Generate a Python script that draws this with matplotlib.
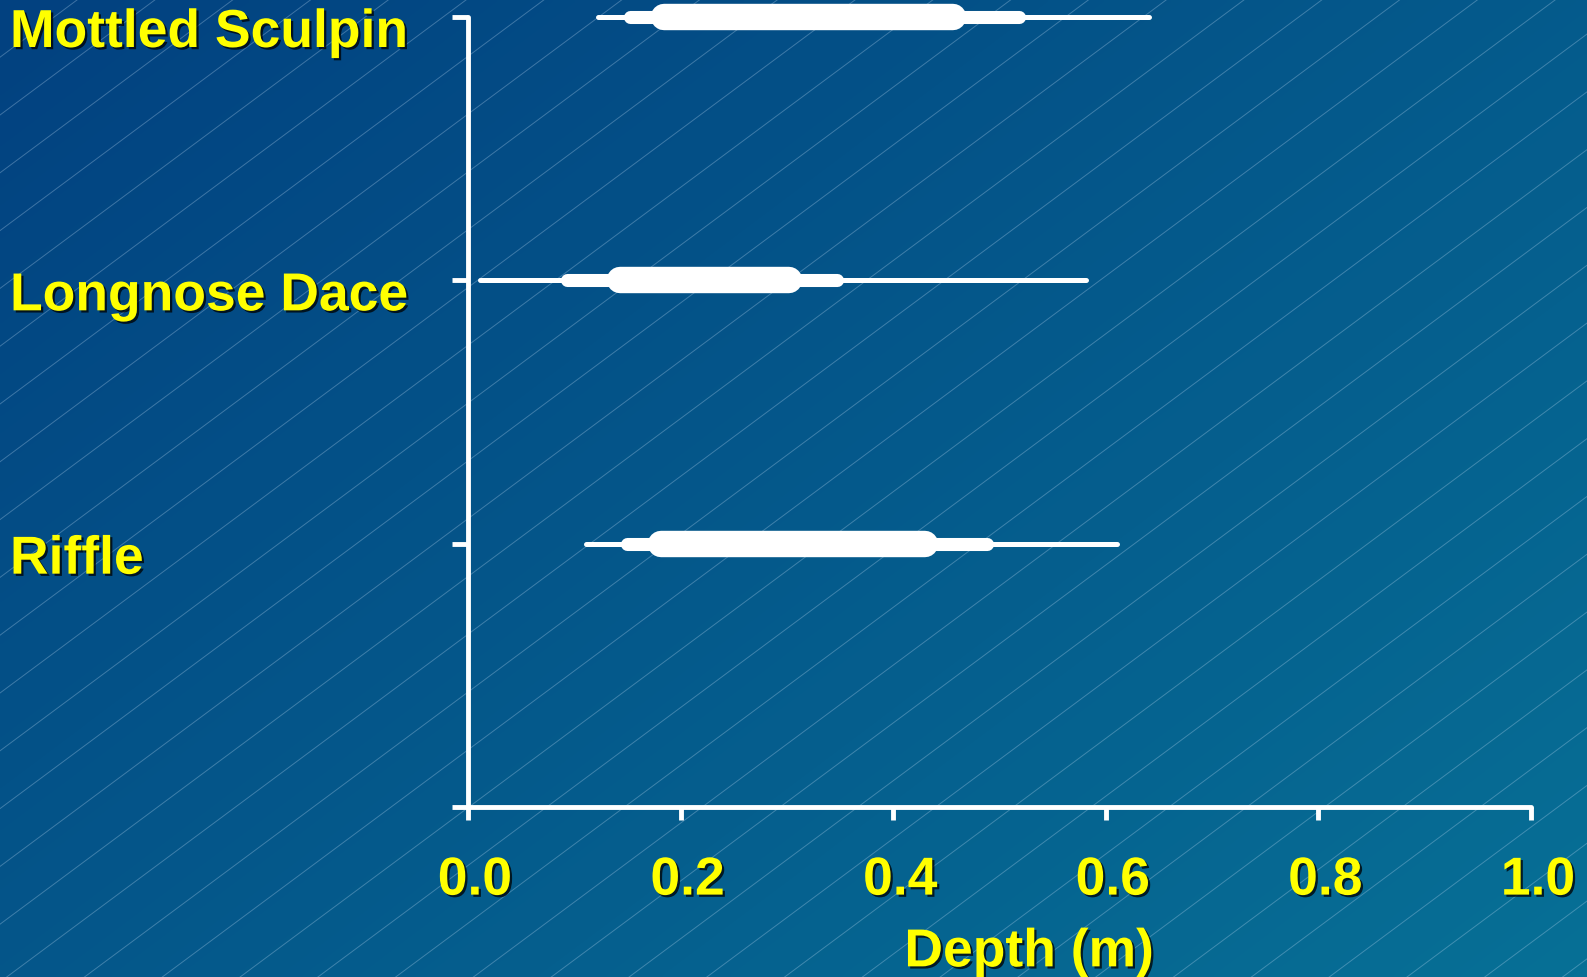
import numpy as np
import matplotlib
matplotlib.use('Agg')
import matplotlib.pyplot as plt
import matplotlib.patheffects as pe
from matplotlib.colors import LinearSegmentedColormap
from matplotlib.transforms import ScaledTranslation, blended_transform_factory

# ---- data ----
categories = ['Mottled Sculpin', 'Longnose Dace', 'Riffle']
row_pos = [3, 2, 1]
whisker_lo = [0.122, 0.011, 0.111]
whisker_hi = [0.641, 0.581, 0.611]
inner_lo = [0.152, 0.093, 0.150]
inner_hi = [0.518, 0.347, 0.488]
core_lo = [0.184, 0.143, 0.182]
core_hi = [0.456, 0.302, 0.430]
x_ticks = [0.0, 0.2, 0.4, 0.6, 0.8, 1.0]
x_tick_labels = ['0.0', '0.2', '0.4', '0.6', '0.8', '1.0']
x_label = 'Depth (m)'

plt.rcParams['font.family'] = ['Liberation Sans', 'DejaVu Sans']
plt.rcParams['font.weight'] = 'bold'

W, H = 1587, 977
fig = plt.figure(figsize=(W / 100, H / 100), dpi=100)

# ---- background gradient with diagonal hairlines ----
bg = fig.add_axes([0, 0, 1, 1], zorder=0)
bg.set_axis_off()
u = np.linspace(0, 1, 400)
v = np.linspace(0, 1, 250)
U, V = np.meshgrid(u, v)
T = 0.55 * U + 0.45 * V
cmap = LinearSegmentedColormap.from_list('bg', ['#024180', '#077096'])
bg.imshow(T, cmap=cmap, extent=[0, W, H, 0], aspect='auto',
          interpolation='bilinear', vmin=0, vmax=1)
slope = 0.743
spacing = 57.8
c = 115 - spacing * 3
while c < H + slope * W + spacing:
    bg.plot([0, W], [c, c - slope * W], color=(0.78, 0.88, 0.97), alpha=0.3, lw=0.7)
    c += spacing
bg.set_xlim(0, W)
bg.set_ylim(H, 0)

# ---- main axes ----
ax = fig.add_axes([468 / W, (H - 807) / H, 1063 / W, 790 / H], zorder=1)
ax.patch.set_alpha(0)
ax.set_xlim(0, 1)
ax.set_ylim(0, 3)
for s in ['top', 'right']:
    ax.spines[s].set_visible(False)
for s in ['left', 'bottom']:
    ax.spines[s].set_color('white')
    ax.spines[s].set_linewidth(3.5)
    ax.spines[s].set_capstyle('round')

ax.set_yticks([0] + row_pos)
ax.set_yticklabels([])
ax.tick_params(axis='y', length=11.5, width=3.5, color='white', direction='out')
ax.set_xticks(x_ticks)
ax.set_xticklabels(x_tick_labels)
ax.tick_params(axis='x', length=9, width=3.5, color='white', direction='out',
               pad=26, labelsize=38.5, labelcolor='#FFFF00')

shadow = [pe.withSimplePatchShadow(offset=(1.6, -1.6), shadow_rgbFace='black', alpha=0.75)]
for lbl in ax.get_xticklabels():
    lbl.set_fontweight('bold')
    lbl.set_path_effects(shadow)
    lbl.set_transform(lbl.get_transform() + ScaledTranslation(0.07, 0, fig.dpi_scale_trans))

# ---- bars ----
for y, a, b in zip(row_pos, whisker_lo, whisker_hi):
    ax.plot([a, b], [y, y], color='white', lw=3.6, solid_capstyle='round', clip_on=False, zorder=3)
for y, a, b in zip(row_pos, inner_lo, inner_hi):
    ax.plot([a, b], [y, y], color='white', lw=9.4, solid_capstyle='round', clip_on=False, zorder=4)
for y, a, b in zip(row_pos, core_lo, core_hi):
    ax.plot([a, b], [y, y], color='white', lw=19, solid_capstyle='round', clip_on=False, zorder=5)

# ---- category labels ----
trans = blended_transform_factory(fig.transFigure, ax.transData)
for name, y in zip(categories, row_pos):
    ax.annotate(name, xy=(10 / W, y), xycoords=trans, xytext=(0, -16),
                textcoords='offset pixels', ha='left', va='center',
                fontsize=38.5, fontweight='bold', color='#FFFF00',
                path_effects=shadow, annotation_clip=False)

# ---- x label ----
ax.set_xlabel(x_label, fontsize=38.5, fontweight='bold', color='#FFFF00', path_effects=shadow)
ax.xaxis.set_label_coords(0.528, -0.184)
ax.xaxis.label.set_va('center')

fig.savefig('out.png', dpi=100)
